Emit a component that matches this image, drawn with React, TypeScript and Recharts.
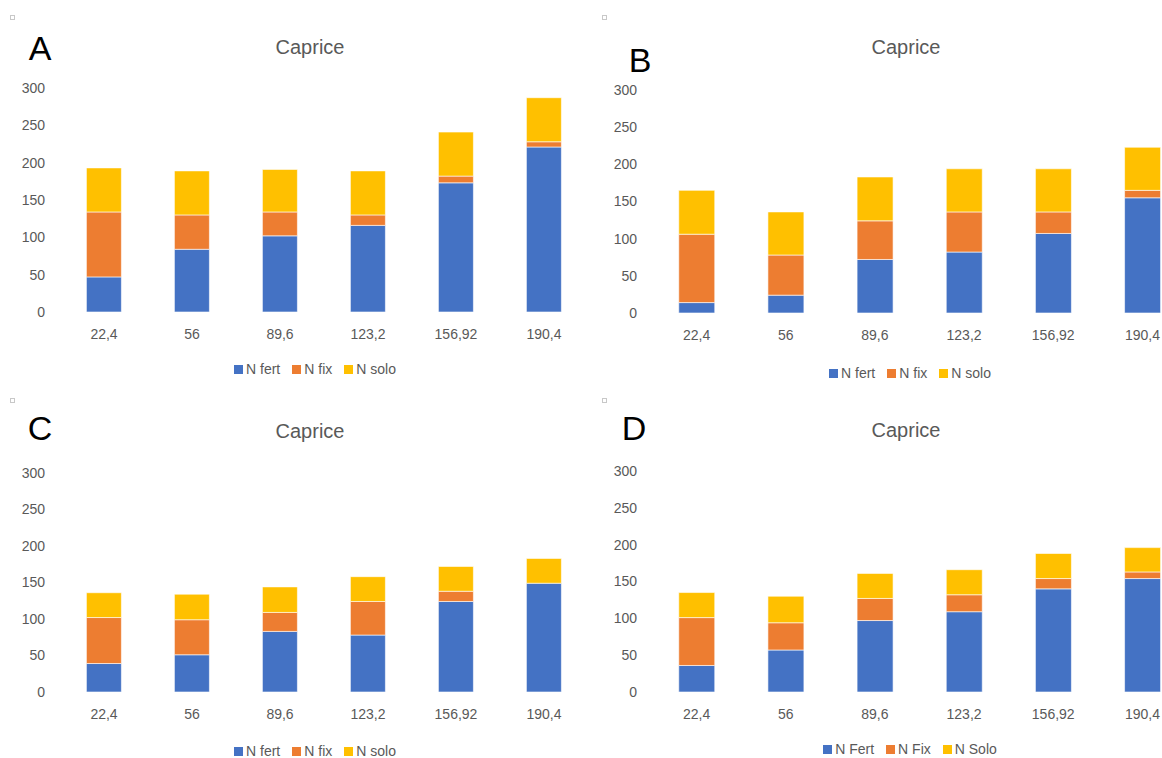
import React from 'react';
import { BarChart, Bar, XAxis, YAxis } from 'recharts';

const categories = ['22,4', '56', '89,6', '123,2', '156,92', '190,4'];
const yTicks = [0, 50, 100, 150, 200, 250, 300];

const aFert = [47, 84, 102, 116, 173, 221];
const aFix = [87, 46, 32, 14, 9, 7];
const aSolo = [59, 59, 57, 59, 59, 59];

const bFert = [14, 24, 72, 82, 107, 155];
const bFix = [92, 54, 52, 54, 29, 10];
const bSolo = [59, 58, 59, 58, 58, 58];

const cFert = [39, 51, 83, 78, 124, 149];
const cFix = [63, 48, 26, 46, 14, 0];
const cSolo = [34, 35, 35, 34, 34, 34];

const dFert = [36, 57, 97, 109, 140, 154];
const dFix = [65, 37, 30, 23, 14, 9];
const dSolo = [34, 36, 34, 34, 34, 33];

const legendLower = ['N fert', 'N fix', 'N solo'];
const legendUpper = ['N Fert', 'N Fix', 'N Solo'];
const colors = ['#4472C4', '#ED7D31', '#FFC000'];

const FONT = '"Liberation Sans", Arial, sans-serif';
const GREY = '#595959';

function buildRows(fert: number[], fix: number[], solo: number[]) {
  return categories.map((name, i) => ({ name, fert: fert[i], fix: fix[i], solo: solo[i] }));
}

interface PanelProps {
  left: number;
  top: number;
  width: number;
  height: number;
  plotLeft: number;
  plotRight: number;
  plotTop: number;
  plotBottom: number;
  letter: string;
  letterX: number;
  letterY: number;
  titleX: number;
  titleY: number;
  legendX: number;
  legendY: number;
  names: string[];
  fert: number[];
  fix: number[];
  solo: number[];
}

function Panel(p: PanelProps) {
  const data = buildRows(p.fert, p.fix, p.solo);
  const keys = ['fert', 'fix', 'solo'];
  return (
    <>
      <div style={{ position: 'absolute', left: p.left, top: p.top }}>
        <BarChart
          width={p.width}
          height={p.height}
          data={data}
          barCategoryGap="30%"
          margin={{ top: p.plotTop - p.top, right: p.left + p.width - p.plotRight, bottom: 0, left: 0 }}
        >
          <XAxis
            dataKey="name"
            axisLine={false}
            tickLine={false}
            tickSize={0}
            tickMargin={17}
            height={p.top + p.height - p.plotBottom}
            interval={0}
            tick={{ fill: GREY, fontSize: 14, fontFamily: FONT }}
          />
          <YAxis
            domain={[0, 300]}
            ticks={yTicks}
            axisLine={false}
            tickLine={false}
            tickSize={0}
            tickMargin={15}
            width={p.plotLeft - p.left}
            tick={{ fill: GREY, fontSize: 14, fontFamily: FONT }}
          />
          {keys.map((k, i) => (
            <Bar
              key={k}
              dataKey={k}
              stackId="n"
              fill={colors[i]}
              stroke="#ffffff"
              strokeWidth={0.6}
              isAnimationActive={false}
            />
          ))}
        </BarChart>
      </div>
      <div
        style={{
          position: 'absolute', left: p.letterX - 30, top: p.letterY - 20, width: 60,
          textAlign: 'center', fontSize: 34, lineHeight: '40px', color: '#000', fontFamily: FONT,
        }}
      >
        {p.letter}
      </div>
      <div
        style={{
          position: 'absolute', left: p.titleX - 80, top: p.titleY - 12, width: 160,
          textAlign: 'center', fontSize: 20, lineHeight: '24px', color: GREY, fontFamily: FONT,
        }}
      >
        Caprice
      </div>
      <div
        style={{
          position: 'absolute', left: p.legendX - 150, top: p.legendY - 9, width: 300,
          display: 'flex', justifyContent: 'center', alignItems: 'center',
          fontSize: 14, lineHeight: '18px', color: GREY, fontFamily: FONT,
        }}
      >
        {p.names.map((n, i) => (
          <span key={n} style={{ display: 'flex', alignItems: 'center', marginRight: i < 2 ? 12 : 0 }}>
            <span style={{ width: 9, height: 9, background: colors[i], marginRight: 3 }} />
            {n}
          </span>
        ))}
      </div>
    </>
  );
}

const marks = [
  [12, 17], [604, 17], [12, 400], [604, 400],
];

export default function App() {
  return (
    <div
      style={{
        position: 'absolute', left: 0, top: 0, width: 1162, height: 758,
        overflow: 'hidden', background: '#fff', fontFamily: FONT,
      }}
    >
      {marks.map(([x, y]) => (
        <div
          key={`${x}-${y}`}
          style={{ position: 'absolute', left: x - 2, top: y - 2, width: 3, height: 3, border: '1px solid #c8c8c8' }}
        />
      ))}
      <Panel
        left={0} top={0} width={600} height={390}
        plotLeft={60} plotRight={588} plotTop={88} plotBottom={312}
        letter="A" letterX={40} letterY={48}
        titleX={310} titleY={47}
        legendX={315} legendY={369}
        names={legendLower} fert={aFert} fix={aFix} solo={aSolo}
      />
      <Panel
        left={590} top={0} width={600} height={390}
        plotLeft={652} plotRight={1187} plotTop={90} plotBottom={313}
        letter="B" letterX={640} letterY={60}
        titleX={906} titleY={47}
        legendX={910} legendY={373}
        names={legendLower} fert={bFert} fix={bFix} solo={bSolo}
      />
      <Panel
        left={0} top={390} width={600} height={368}
        plotLeft={60} plotRight={588} plotTop={473} plotBottom={692}
        letter="C" letterX={40} letterY={428}
        titleX={310} titleY={431}
        legendX={315} legendY={751}
        names={legendLower} fert={cFert} fix={cFix} solo={cSolo}
      />
      <Panel
        left={590} top={390} width={600} height={368}
        plotLeft={652} plotRight={1187} plotTop={471} plotBottom={692}
        letter="D" letterX={634} letterY={428}
        titleX={906} titleY={430}
        legendX={910} legendY={749}
        names={legendUpper} fert={dFert} fix={dFix} solo={dSolo}
      />
    </div>
  );
}
